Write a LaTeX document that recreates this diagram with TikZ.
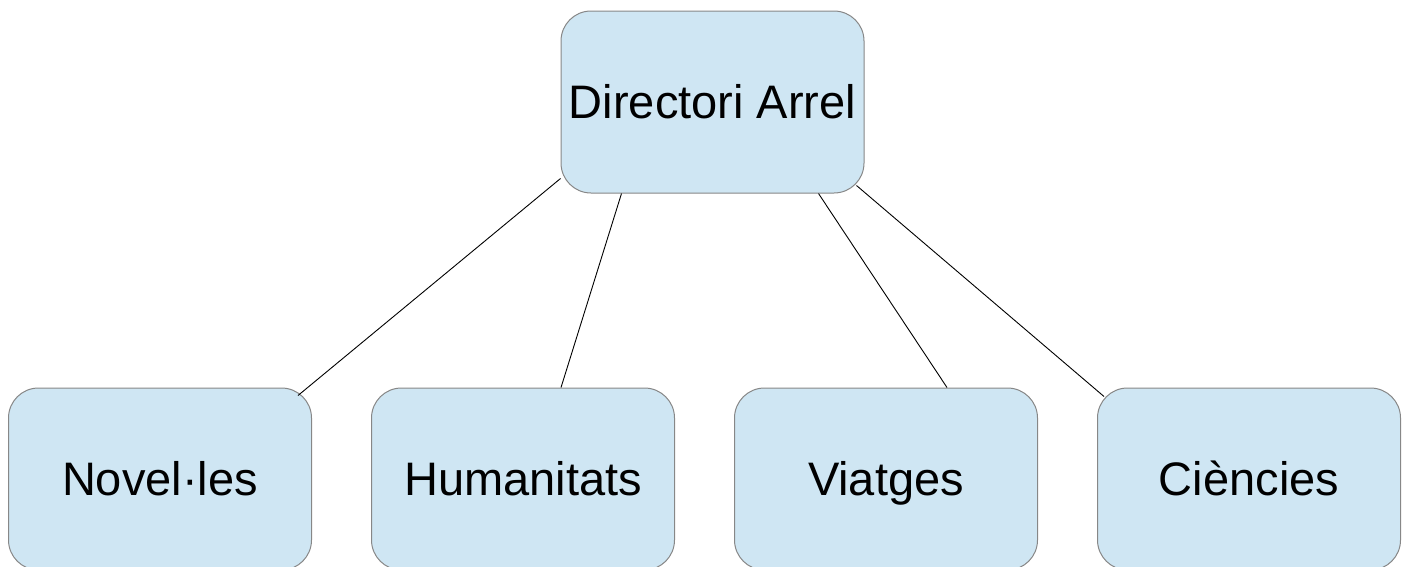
\documentclass[tikz,border=0pt]{standalone}
\usepackage{fontspec}
\setmainfont{Liberation Sans}
\usepackage{tikz}
\definecolor{boxfill}{RGB}{207,230,243}
\definecolor{boxline}{RGB}{135,135,135}
\tikzset{
    dirbox/.style={draw=boxline, line width=1pt, fill=boxfill, rounded corners=30pt,
        minimum width=303pt, minimum height=182pt, inner sep=0pt,
        text height=33pt, text depth=0pt,
        font=\fontsize{47}{50}\selectfont},
    link/.style={draw=black, line width=0.9pt}
}

\begin{document}
\begin{tikzpicture}[x=1pt, y=-1pt]
    \clip (0, 0) rectangle (1407, 566);
    \node[dirbox] (arrel) at (712.5, 102) {Directori Arrel};
    \node[dirbox] (novel) at (160, 479) {Novel·les};
    \node[dirbox] (human) at (523, 479) {Humanitats};
    \node[dirbox] (viatg) at (886, 479) {Viatges};
    \node[dirbox] (cienc) at (1249, 479) {Ciències};
    \draw[link] ([yshift=15pt]arrel.south west) -- ([xshift=-14pt, yshift=-8pt]novel.north east);
    \draw[link] ([xshift=61pt]arrel.south west) -- ([xshift=38pt]human.north);
    \draw[link] ([xshift=-46pt]arrel.south east) -- ([xshift=61pt]viatg.north);
    \draw[link] ([xshift=-8pt, yshift=8pt]arrel.south east) -- ([xshift=7pt, yshift=-9pt]cienc.north west);
\end{tikzpicture}
\end{document}
